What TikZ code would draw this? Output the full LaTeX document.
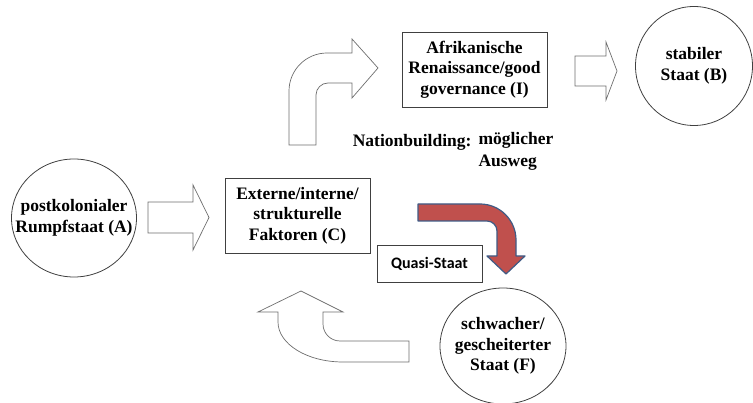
\documentclass[tikz,border=0pt]{standalone}
\usepackage{fontspec}
\setmainfont{Liberation Serif}
\newfontfamily\calibri{Carlito}
\usepackage{tikz}
\usetikzlibrary{shapes.geometric}

\definecolor{outline}{HTML}{404040}
\definecolor{arrowgray}{HTML}{6E6E6E}
\definecolor{redfill}{HTML}{C0504D}
\definecolor{redline}{HTML}{3F5B85}

\begin{document}
\begin{tikzpicture}[x=1pt, y=-1pt,
    every node/.style={font=\bfseries\fontsize{17.5}{20.5}\selectfont, align=center},
    staat/.style={draw=outline, line width=0.8pt, ellipse, inner sep=-40pt},
    faktor/.style={draw=outline, line width=0.8pt, rectangle, minimum width=145pt, minimum height=75pt},
    hollow/.style={draw=arrowgray, line width=0.7pt, fill=white}]

\useasboundingbox (0,0) rectangle (753,403);

% States
\node[staat, minimum width=125pt, minimum height=118pt] (A) at (74,218) {postkolonialer\\Rumpfstaat (A)};
\node[staat, minimum width=117pt, minimum height=119pt] (B) at (694,66) {stabiler\\Staat (B)};
\node[staat, minimum width=126pt, minimum height=116pt] (F) at (503,346) {schwacher/\\gescheiterter\\Staat (F)};

% Factors and way out
\node[faktor] (C) at (297.5,215.5) {Externe/interne/\\strukturelle\\Faktoren (C)};
\node[faktor] (I) at (474.5,69.5) {Afrikanische\\Renaissance/good\\governance (I)};
\node[draw=outline, line width=0.8pt, minimum width=105pt, minimum height=37pt,
      font=\calibri\bfseries\fontsize{16}{18}\selectfont] (Q) at (429.5,263.5) {Quasi-Staat};

% Nationbuilding label
\node[anchor=east] (NB) at (475,142) {Nationbuilding:};
\node[anchor=west, align=left, font=\bfseries\fontsize{17.5}{22}\selectfont] (AW) at (475,151) {möglicher\\Ausweg};

% Straight block arrows A -> C and I -> B
\foreach \xa/\xh/\xb/\yc/\sw/\hw in {148/193/209/217.5/15.5/32.5, 575/606/617/71/15/29} {
  \draw[hollow] (\xa,\yc-\sw) -- (\xh,\yc-\sw) -- (\xh,\yc-\hw) -- (\xb,\yc)
    -- (\xh,\yc+\hw) -- (\xh,\yc+\sw) -- (\xa,\yc+\sw) -- cycle;
}

% Bent arrow C -> I
\draw[hollow] (289,145) -- (289,91) arc[start angle=180, end angle=270, radius=38]
  -- (352,53) -- (352,39) -- (378,68) -- (352,98) -- (352,83) -- (328,83)
  arc[start angle=270, end angle=180, radius=12] -- (316,145) -- cycle;

% Red arrow C -> F
\draw[fill=redfill, draw=redline, line width=1.2pt, line join=round] (418,204) -- (480,204)
  arc[start angle=270, end angle=360, radius=36] -- (516,256) -- (525,256) -- (506,274)
  -- (487,256) -- (497,256) -- (497,231) arc[start angle=0, end angle=-90, radius=10]
  -- (418,221) -- cycle;

% U-turn arrow F -> C
\draw[hollow] (301,291) -- (343,312) -- (323,312) -- (323,324)
  arc[start angle=180, end angle=90, radius=17] -- (409,341) -- (409,362) -- (343,362)
  arc[start angle=90, end angle=180, x radius=65, y radius=40] -- (278,312) -- (258,312) -- cycle;

\end{tikzpicture}
\end{document}
